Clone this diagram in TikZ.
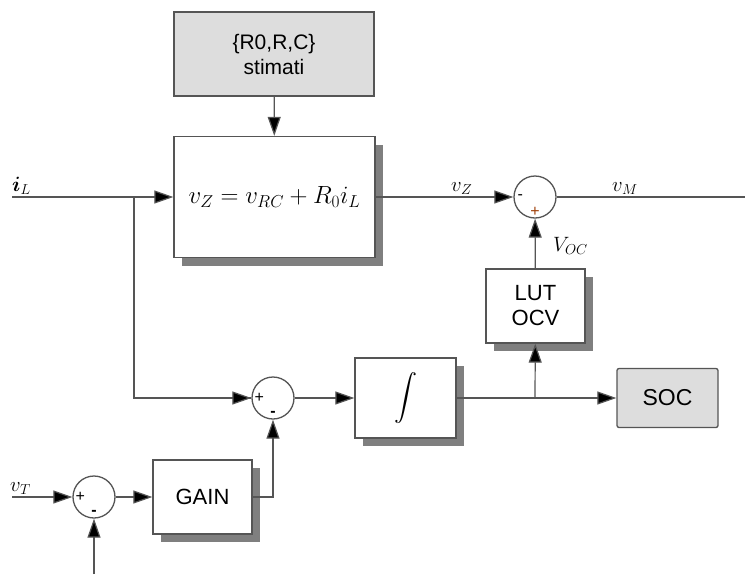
\documentclass[tikz,border=0pt]{standalone}
\usepackage{amsmath,amssymb}
\usepackage{fontspec}
\setsansfont{Liberation Sans}
\usepackage{xcolor}
\definecolor{socbg}{HTML}{DDDDDD}
\definecolor{socline}{HTML}{555555}
\definecolor{socshade}{HTML}{7F7F7F}
\definecolor{socplus}{HTML}{A0400A}
\usetikzlibrary{arrows.meta,positioning,shadows,calc}
\tikzset{
  socbox/.style={draw=socline,line width=1.3pt,fill=white,align=center,font=\sffamily\fontsize{22}{25}\selectfont,inner sep=0pt,
    drop shadow={shadow xshift=8pt,shadow yshift=-8pt,fill=socshade,opacity=1}},
  socgray/.style={draw=socline,line width=1.3pt,fill=socbg,align=center,font=\sffamily\fontsize{21}{25}\selectfont,inner sep=0pt},
  socsum/.style={draw=socline,line width=1.3pt,fill=white,circle,minimum size=42pt,inner sep=0pt},
  socsign/.style={font=\sffamily\fontsize{16}{16}\selectfont,inner sep=0pt},
  socwire/.style={draw=socline,line width=1.2pt},
  socflow/.style={socwire,-{Triangle[length=19pt,width=13pt,fill=black]}},
  soclabel/.style={font=\fontsize{21}{21}\selectfont,inner sep=0pt},
}
\begin{document}
\begin{tikzpicture}[x=1pt,y=-1pt]
\useasboundingbox (0,0) rectangle (745,574);
% blocks
\node[socgray,minimum width=200pt,minimum height=84pt](est) at (274,54){\{R0,R,C\}\\stimati};
\node[socbox,minimum width=201pt,minimum height=121pt,font=\fontsize{23}{23}\selectfont](model) at (274.5,197){$v_Z = v_{RC} + R_0 i_L$};
\node[socsum](sumz) at (535,197){};
\node[socbox,minimum width=99pt,minimum height=74pt](lut) at (535.5,306){LUT\\OCV};
\node[socsum](sumi) at (273,398){};
\node[socbox,minimum width=101pt,minimum height=80pt,font=\fontsize{23}{23}\selectfont](integ) at (405.5,398){$\displaystyle\int$};
\node[socgray,rounded corners=2pt,minimum width=101pt,minimum height=59pt,font=\sffamily\fontsize{23}{25}\selectfont](soc) at (667.5,398){SOC};
\node[socsum](sumt) at (94,497){};
\node[socbox,minimum width=99pt,minimum height=74pt](gain) at (202.5,497){GAIN};
% signs
\node[socsign] at ([xshift=7pt]sumz.west){-};
\node[socsign,text=socplus] at ([yshift=7pt]sumz.south){+};
\node[socsign] at ([xshift=8pt]sumi.west){+};
\node[socsign] at ([yshift=6pt]sumi.south){\textbf{-}};
\node[socsign] at ([xshift=8pt]sumt.west){+};
\node[socsign] at ([yshift=6pt]sumt.south){\textbf{-}};
% free ends
\coordinate (iin) at (12,197);
\coordinate (split) at (134,197);
\coordinate (vout) at (745,197);
\coordinate (tap) at (535,398);
\coordinate (vin) at (12,497);
\coordinate (fb) at (94,574);
% labels
\node[soclabel,anchor=base west](il) at (12,191){$\boldsymbol{i}_L$};
\node[soclabel,anchor=base west](vz) at (451,191){$v_Z$};
\node[soclabel,anchor=base west](vm) at (612,191){$v_M$};
\node[soclabel,anchor=base west](voc) at (553,251){$V_{OC}$};
\node[soclabel,anchor=base west](vt) at (10,491){$v_T$};
% wires
\draw[socflow](est)--(model);
\draw[socflow](iin)--(model);
\draw[socwire](split)|-(tap-|sumi.west);
\draw[socflow](split|-sumi)--(sumi);
\draw[socflow](model)--(sumz);
\draw[socwire](sumz)--(vout);
\draw[socflow](lut)--(sumz);
\draw[socflow](sumi)--(integ);
\draw[socflow](integ)--(soc);
\draw[socflow](tap)--(lut);
\draw[socflow](vin)--(sumt);
\draw[socflow](fb)--(sumt);
\draw[socflow](sumt)--(gain);
\draw[socflow](gain)-|(sumi);
\end{tikzpicture}
\end{document}
